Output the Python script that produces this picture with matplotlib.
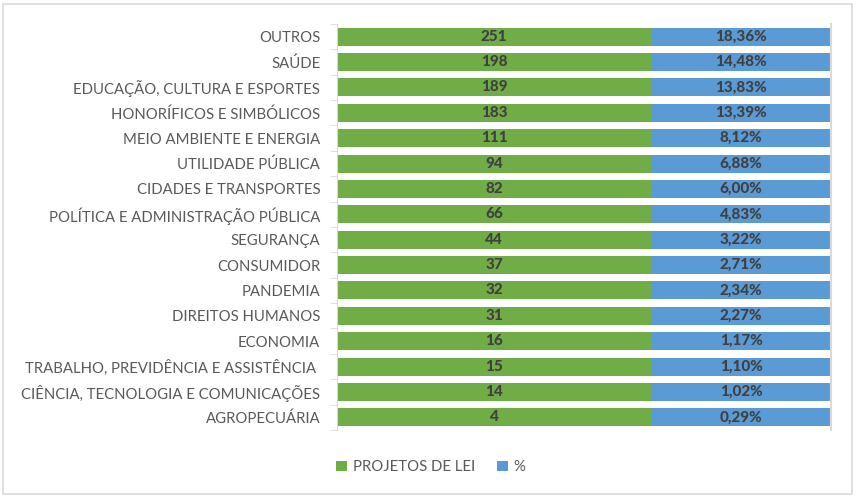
import matplotlib.pyplot as plt
from matplotlib.patches import Rectangle

temas = ["OUTROS", "SAÚDE", "EDUCAÇÃO, CULTURA E ESPORTES", "HONORÍFICOS E SIMBÓLICOS",
         "MEIO AMBIENTE E ENERGIA", "UTILIDADE PÚBLICA", "CIDADES E TRANSPORTES",
         "POLÍTICA E ADMINISTRAÇÃO PÚBLICA", "SEGURANÇA", "CONSUMIDOR", "PANDEMIA",
         "DIREITOS HUMANOS", "ECONOMIA", "TRABALHO, PREVIDÊNCIA E ASSISTÊNCIA ",
         "CIÊNCIA, TECNOLOGIA E COMUNICAÇÕES", "AGROPECUÁRIA"]
projetos = [251, 198, 189, 183, 111, 94, 82, 66, 44, 37, 32, 31, 16, 15, 14, 4]
pct = [18.36, 14.48, 13.83, 13.39, 8.12, 6.88, 6.00, 4.83, 3.22, 2.71, 2.34, 2.27,
       1.17, 1.10, 1.02, 0.29]

plt.rcParams['font.family'] = ['Lato', 'DejaVu Sans']

verde = "#70ad47"
azul = "#5b9bd5"
cinza = "#595959"
# the reference splits every row at the same place (100% stacked look)
corte = 0.636

fig = plt.figure(figsize=(8.56, 4.98), dpi=100)
ax = fig.add_axes([337/856, 1-430/498, 494/856, 406/498])

y = list(range(len(temas)))
ax.barh(y, [corte]*len(y), height=0.71, color=verde, label="PROJETOS DE LEI")
ax.barh(y, [1-corte]*len(y), left=corte, height=0.71, color=azul, label="%")

for i in y:
    ax.text(corte/2, i, str(projetos[i]), ha="center", va="center",
            fontsize=11, fontweight="black", color="#404040")
    ax.text(corte + (1-corte)/2, i, f"{pct[i]:.2f}%".replace(".", ","), ha="center",
            va="center", fontsize=11, fontweight="black", color="#404040")

ax.set_xlim(0, 1)
ax.set_ylim(len(y)-0.5, -0.5)
ax.set_yticks(y)
ax.set_yticklabels(temas, fontsize=10.7, color=cinza)
ax.set_yticks([i-0.5 for i in range(len(y)+1)], minor=True)
ax.tick_params(axis="y", which="major", length=0, pad=12)
ax.tick_params(axis="y", which="minor", length=5, color="#d9d9d9")
ax.set_xticks([])
for s in ["top", "bottom"]:
    ax.spines[s].set_visible(False)
ax.spines["left"].set_color("#d9d9d9")
ax.spines["right"].set_color("#d9d9d9")
ax.spines["right"].set_linewidth(1.5)

fig.legend(loc="center", bbox_to_anchor=(431/856, 1-467/498), ncol=2, frameon=False,
           fontsize=10.7, labelcolor=cinza, handlelength=0.7, handleheight=0.7,
           columnspacing=1.5, handletextpad=0.4)

fig.patches.append(Rectangle((3/856, 4/498), 849/856, 490/498, transform=fig.transFigure,
                             fill=False, edgecolor="#d9d9d9", linewidth=1.2))

fig.savefig("out.png", dpi=100)
